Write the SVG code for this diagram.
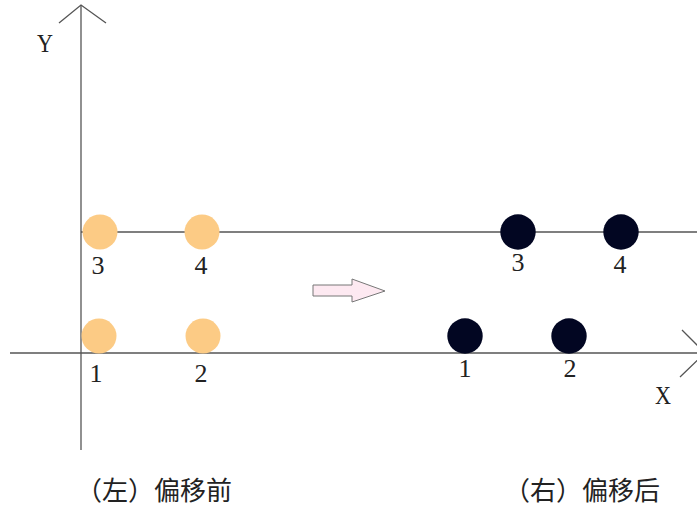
<svg xmlns="http://www.w3.org/2000/svg" width="697" height="506" viewBox="0 0 697 506">
<style>
.ax{stroke:#555;stroke-width:1.3;fill:none}
.or{fill:#fccb85}
.bk{fill:#020622}
.num{font-family:"Liberation Serif",serif;font-size:26px;fill:#222;text-anchor:middle}
.cap{font-family:"Noto Sans CJK SC","Noto Sans",sans-serif;font-size:26px;fill:#222}
</style>
<rect width="697" height="506" fill="#fff"/>
<g id="connectors">
<line class="ax" x1="81" y1="5" x2="81" y2="450"/>
<polyline class="ax" points="59,23 81,5 106,23"/>
<line class="ax" x1="10" y1="353" x2="697" y2="353"/>
<polyline class="ax" points="682,330 705,353 680,377"/>
<line class="ax" x1="81" y1="232" x2="697" y2="232"/>
<path d="M313,285 H352 V279 L385,291 L352,302 V296 H313 Z" fill="#fde9f1" stroke="#777" stroke-width="1"/>
</g>
<g id="axis-labels">
<text class="num" x="45" y="52" textLength="16" lengthAdjust="spacingAndGlyphs">Y</text>
<text class="num" x="663" y="404" textLength="16" lengthAdjust="spacingAndGlyphs">X</text>
</g>
<g id="left-3"><circle class="or" cx="100" cy="232" r="17.5"/><text class="num" x="98" y="274">3</text></g>
<g id="left-4"><circle class="or" cx="202" cy="232" r="17.5"/><text class="num" x="201" y="274">4</text></g>
<g id="left-1"><circle class="or" cx="99" cy="336" r="17.5"/><text class="num" x="96" y="382">1</text></g>
<g id="left-2"><circle class="or" cx="203" cy="336" r="17.5"/><text class="num" x="201" y="382">2</text></g>
<g id="right-3"><circle class="bk" cx="518" cy="232" r="17.7"/><text class="num" x="518" y="271">3</text></g>
<g id="right-4"><circle class="bk" cx="621" cy="232" r="17.7"/><text class="num" x="620" y="273">4</text></g>
<g id="right-1"><circle class="bk" cx="465" cy="336" r="17.7"/><text class="num" x="465" y="377">1</text></g>
<g id="right-2"><circle class="bk" cx="569" cy="336" r="17.7"/><text class="num" x="570" y="377">2</text></g>
<g id="captions">
<text class="cap" x="76" y="500">（左）偏移前</text>
<text class="cap" x="504" y="500">（右）偏移后</text>
</g>
</svg>
